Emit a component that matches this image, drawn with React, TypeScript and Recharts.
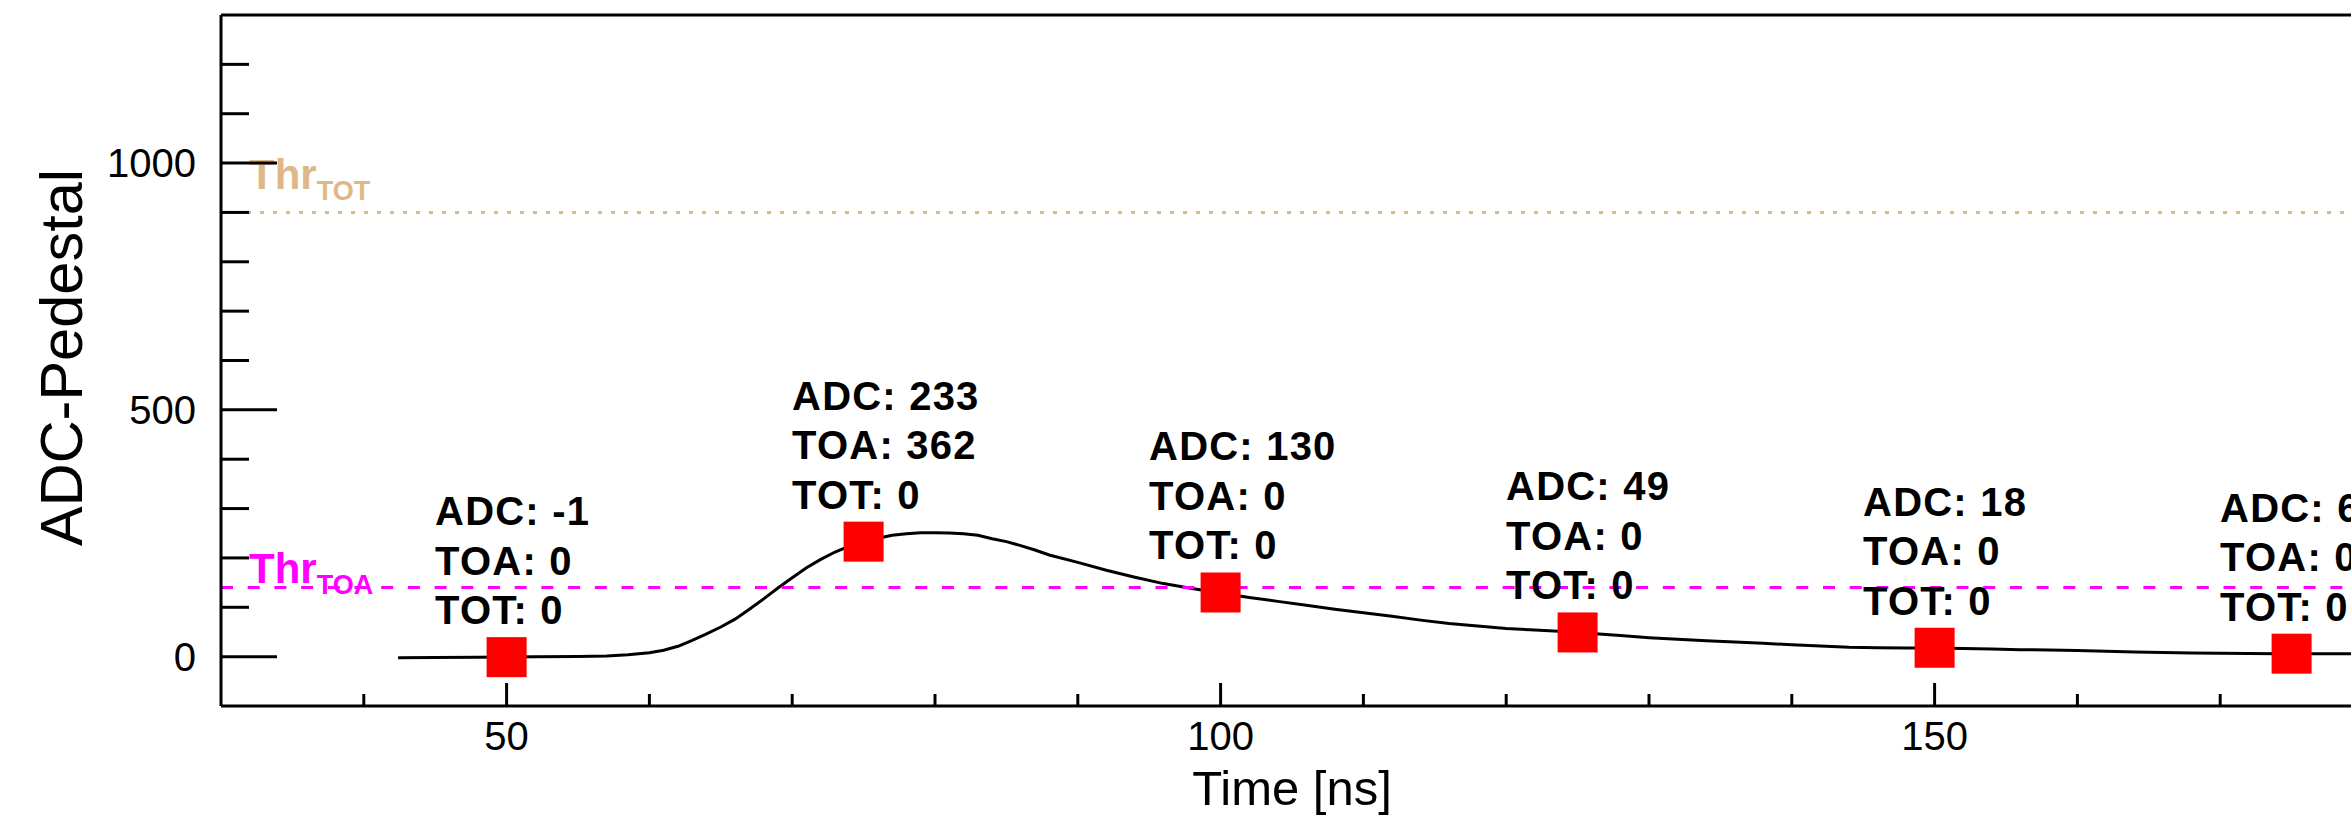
import React from 'react';
import { ComposedChart, Line, Scatter, XAxis, YAxis, ReferenceLine } from 'recharts';

// pulse shape (time in ns, ADC-pedestal)
const curveT = [42.4, 45, 48, 50, 52, 55, 57, 58.5, 60, 61, 62, 63, 64, 65, 66, 67, 68, 69, 70, 71, 72, 73, 74, 75, 76, 77, 78, 79, 80, 81, 82, 83, 84, 85, 86, 87, 88, 90, 92, 94, 96, 98, 100, 102, 104, 106, 108, 110, 112, 114, 116, 118, 120, 122, 124, 126, 128, 130, 132, 134, 136, 138, 140, 142, 144, 146, 148, 150, 152, 154, 156, 158, 160, 162, 164, 166, 168, 170, 172, 174, 176, 178, 180];
const curveV = [-2, -1.5, -1, -0.5, 0, 0.5, 1.5, 4, 8, 13, 21, 33, 46, 60, 76, 96, 117, 139, 160, 180, 197, 212, 224, 233, 240, 246, 249, 251, 251, 250.5, 249, 246, 239, 233, 225, 216, 206, 191, 175, 161, 148, 138, 129, 120, 112, 104, 96, 89, 82, 74, 67, 62, 57, 54, 51, 47, 43, 38.5, 35, 32, 29.5, 27, 24, 21.5, 19, 18, 17.5, 17.3, 16.5, 15.3, 14, 13.6, 12.5, 11, 9.5, 8.3, 7.3, 6.7, 6.3, 6, 6, 6, 6];

// sampled points
const sampleT = [50, 75, 100, 125, 150, 175];
const sampleADC = [-1, 233, 130, 49, 18, 6];
const sampleTOA = [0, 362, 0, 0, 0, 0];
const sampleTOT = [0, 0, 0, 0, 0, 0];

const thrTOA = 140;
const thrTOT = 900;

const xTicks = [40, 50, 60, 70, 80, 90, 100, 110, 120, 130, 140, 150, 160, 170];
const yTicks = [0, 100, 200, 300, 400, 500, 600, 700, 800, 900, 1000, 1100, 1200];

const curve = curveT.map((t, i) => ({ t, v: curveV[i] }));
const samples = sampleT.map((t, i) => ({ t, adc: sampleADC[i], toa: sampleTOA[i], tot: sampleTOT[i] }));

const FONT = '"Liberation Sans", Arial, Helvetica, sans-serif';

const XTick = ({ x, y, payload }: any) => {
  const major = payload.value % 50 === 0;
  return (
    <g>
      <line x1={x} y1={y} x2={x} y2={y - (major ? 23 : 12)} stroke="#000" strokeWidth={3} />
      {major && (
        <text x={x} y={y + 44} textAnchor="middle" fontSize={40} fontFamily={FONT} fill="#000">
          {payload.value}
        </text>
      )}
    </g>
  );
};

const YTick = ({ x, y, payload }: any) => {
  const major = payload.value % 500 === 0;
  return (
    <g>
      <line x1={x} y1={y} x2={x + (major ? 56 : 28)} y2={y} stroke="#000" strokeWidth={3} />
      {major && (
        <text x={x - 25} y={y + 14} textAnchor="end" fontSize={40} fontFamily={FONT} fill="#000">
          {payload.value}
        </text>
      )}
    </g>
  );
};

// red square marker with the ADC/TOA/TOT text block above-left of it
const SampleMarker = ({ cx, cy, payload }: any) => {
  if (cx == null || cy == null) return null;
  const tx = cx - 71.5;
  return (
    <g>
      <rect x={cx - 20} y={cy - 20} width={40} height={40} fill="#ff0000" />
      <text fontSize={40} fontWeight="bold" fontFamily={FONT} fill="#000" letterSpacing={1.2}>
        <tspan x={tx} y={cy - 132}>{`ADC: ${payload.adc}`}</tspan>
        <tspan x={tx} y={cy - 82.5}>{`TOA: ${payload.toa}`}</tspan>
        <tspan x={tx} y={cy - 33}>{`TOT: ${payload.tot}`}</tspan>
      </text>
    </g>
  );
};

const thrLabel = (sub: string, color: string, dy: number) => (props: any) => {
  const { viewBox } = props;
  return (
    <text x={viewBox.x + 28} y={viewBox.y - dy} fill={color} fontFamily={FONT} fontWeight="bold" fontSize={42}>
      Thr
      <tspan dy={11} fontSize={27}>{sub}</tspan>
    </text>
  );
};

export default function App() {
  return (
    <div style={{ position: 'absolute', left: 0, top: 0, width: 2351, height: 820, overflow: 'hidden', background: '#fff' }}>
      <ComposedChart width={2400} height={820} margin={{ top: 15, right: 37, bottom: 0, left: 0 }}>
        <XAxis
          type="number"
          dataKey="t"
          domain={[30, 180]}
          ticks={xTicks}
          interval={0}
          allowDataOverflow
          height={114}
          tickSize={0}
          tickMargin={0}
          tickLine={false}
          axisLine={{ stroke: '#000', strokeWidth: 3 }}
          tick={XTick}
          label={{
            content: ({ viewBox }: any) => (
              <text x={viewBox.x + viewBox.width / 2} y={viewBox.y + 99} textAnchor="middle" fontSize={49} fontFamily={FONT} fill="#000">
                Time [ns]
              </text>
            ),
          }}
        />
        <YAxis
          type="number"
          domain={[-100, 1300]}
          ticks={yTicks}
          interval={0}
          allowDataOverflow
          width={221}
          tickSize={0}
          tickMargin={0}
          tickLine={false}
          axisLine={{ stroke: '#000', strokeWidth: 3 }}
          tick={YTick}
          label={{
            content: ({ viewBox }: any) => {
              const lx = viewBox.x + 82;
              const ly = viewBox.y + viewBox.height / 2 - 3;
              return (
                <text x={lx} y={ly} transform={`rotate(-90 ${lx} ${ly})`} textAnchor="middle" fontSize={59.5} fontFamily={FONT} fill="#000">
                  ADC-Pedestal
                </text>
              );
            },
          }}
        />
        {/* frame */}
        <ReferenceLine y={1300} stroke="#000" strokeWidth={3} />
        <ReferenceLine x={180} stroke="#000" strokeWidth={3} />

        <Line data={curve} dataKey="v" type="linear" stroke="#000" strokeWidth={3} dot={false} activeDot={false} isAnimationActive={false} />
        <Scatter data={samples} dataKey="adc" shape={SampleMarker} isAnimationActive={false} />

        <ReferenceLine y={thrTOT} stroke="#deb887" strokeWidth={3} strokeDasharray="4 9" label={thrLabel('TOT', '#deb887', 23)} />
        <ReferenceLine y={thrTOA} stroke="#ff00ff" strokeWidth={3} strokeDasharray="12 14.7" label={thrLabel('TOA', '#ff00ff', 5)} />
      </ComposedChart>
    </div>
  );
}
